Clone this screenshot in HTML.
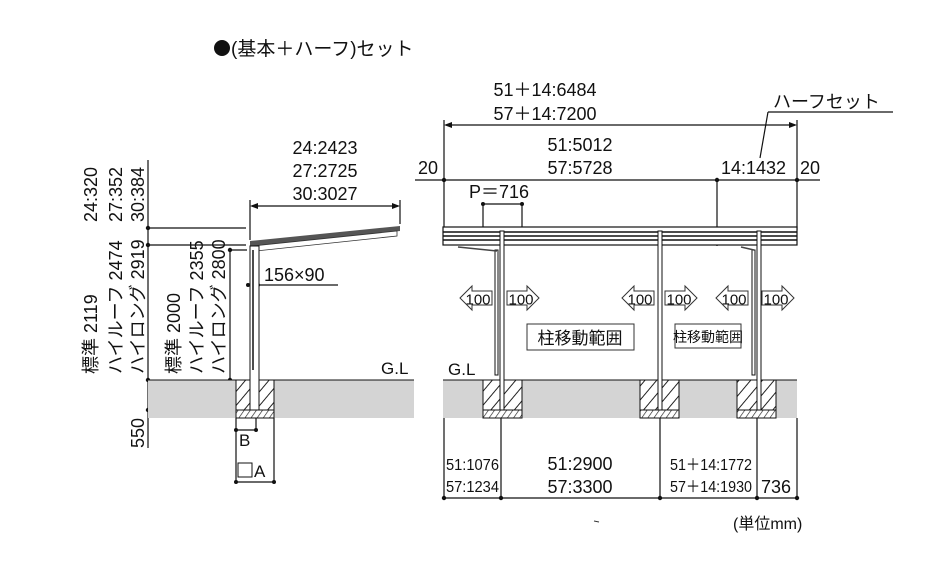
<!DOCTYPE html>
<html><head><meta charset="utf-8"><style>
html,body{margin:0;padding:0;background:#fff;}
svg{display:block;}
text{font-family:"Liberation Sans","Noto Sans CJK JP",sans-serif;fill:#111;}
</style></head><body>
<svg width="948" height="561" viewBox="0 0 948 561" xmlns="http://www.w3.org/2000/svg">
<defs>
<pattern id="h" width="9" height="9" patternUnits="userSpaceOnUse" patternTransform="rotate(40)">
<rect width="9" height="9" fill="#fff"/><line x1="0" y1="0" x2="0" y2="9" stroke="#222" stroke-width="2"/></pattern>
<pattern id="h2" width="5" height="5" patternUnits="userSpaceOnUse" patternTransform="rotate(35)">
<rect width="5" height="5" fill="#fff"/><line x1="0" y1="0" x2="0" y2="5" stroke="#222" stroke-width="1.3"/></pattern>
<g id="la"><polygon points="0,12 12,0 12,5 32,5 32,19 12,19 12,24" fill="#fff" stroke="#333" stroke-width="1"/><text x="18" y="18.5" font-size="15" text-anchor="middle">100</text></g>
<g id="ra"><polygon points="0,5 20,5 20,0 32,12 20,24 20,19 0,19" fill="#fff" stroke="#333" stroke-width="1"/><text x="14" y="18.5" font-size="15" text-anchor="middle">100</text></g>
</defs>
<circle cx="222" cy="48" r="8" fill="#111"/>
<text x="231" y="55" font-size="19">(基本＋ハーフ)セット</text>

<!-- LEFT DIAGRAM -->
<g stroke="#111" stroke-width="1.2" fill="none">
<line x1="148" y1="160" x2="148" y2="448"/>
<line x1="148" y1="228" x2="246" y2="228"/>
<line x1="148" y1="245" x2="246" y2="245"/>
<line x1="230" y1="250" x2="230" y2="380"/>
<line x1="230" y1="250" x2="247" y2="250"/>
<line x1="148" y1="410" x2="236" y2="410"/>
<line x1="250" y1="200" x2="250" y2="240"/>
<line x1="400" y1="200" x2="400" y2="224"/>
<line x1="252" y1="206" x2="398" y2="206"/>
<line x1="248" y1="285" x2="338" y2="285"/>
</g>
<polygon points="250,206 258,203 258,209" fill="#111"/>
<polygon points="400,206 392,203 392,209" fill="#111"/>
<g fill="#111"><circle cx="148" cy="228" r="2.2"/><circle cx="148" cy="245" r="2.2"/><circle cx="148" cy="380" r="2.2"/><circle cx="148" cy="410" r="2.2"/><circle cx="230" cy="250" r="2.2"/><circle cx="230" cy="380" r="2.2"/><circle cx="248" cy="285" r="2"/><circle cx="258" cy="285" r="2"/></g>
<text x="325" y="154" font-size="18" text-anchor="middle">24:2423</text>
<text x="325" y="177" font-size="18" text-anchor="middle">27:2725</text>
<text x="325" y="200" font-size="18" text-anchor="middle">30:3027</text>
<text x="264" y="281" font-size="18">156×90</text>
<g font-size="18">
<text transform="translate(97,222) rotate(-90)">24:320</text>
<text transform="translate(122,222) rotate(-90)">27:352</text>
<text transform="translate(144,222) rotate(-90)">30:384</text>
<text transform="translate(97,374) rotate(-90)">標準 2119</text>
<text transform="translate(122,374) rotate(-90)">ハイルーフ 2474</text>
<text transform="translate(144,374) rotate(-90)">ハイロング 2919</text>
<text transform="translate(180,374) rotate(-90)">標準 2000</text>
<text transform="translate(203,374) rotate(-90)">ハイルーフ 2355</text>
<text transform="translate(225,374) rotate(-90)">ハイロング 2800</text>
<text transform="translate(144,448) rotate(-90)">550</text>
</g>
<polygon points="250,241 400,226 400,231 250,246" fill="#555"/>
<polygon points="252,246 397,231 397,236 256,251" fill="#fff" stroke="#333" stroke-width="0.8"/>
<rect x="148" y="380" width="266" height="38" fill="#d4d4d4"/>
<line x1="148" y1="380" x2="414" y2="380" stroke="#111" stroke-width="1"/>
<text x="381" y="374" font-size="17">G.L</text>
<rect x="236" y="380" width="38" height="30" fill="url(#h)" stroke="#111" stroke-width="1"/>
<rect x="236" y="410" width="38" height="8" fill="url(#h2)" stroke="#111" stroke-width="1"/>
<rect x="250" y="246" width="9" height="164" fill="#fff" stroke="#111" stroke-width="1"/>
<line x1="253" y1="250" x2="253" y2="370" stroke="#111" stroke-width="1.5"/>
<g stroke="#111" stroke-width="1.2">
<line x1="236" y1="418" x2="236" y2="482"/><line x1="274" y1="418" x2="274" y2="482"/>
<line x1="256" y1="418" x2="256" y2="430"/>
<line x1="236" y1="430" x2="256" y2="430"/><line x1="236" y1="482" x2="274" y2="482"/>
</g>
<g fill="#111"><circle cx="236" cy="430" r="2"/><circle cx="256" cy="430" r="2"/><circle cx="236" cy="482" r="2"/><circle cx="274" cy="482" r="2"/></g>
<text x="239" y="446" font-size="17">B</text>
<rect x="238" y="463" width="14" height="14" fill="none" stroke="#111" stroke-width="1"/>
<text x="254" y="477" font-size="17">A</text>

<!-- RIGHT DIAGRAM -->
<text x="545" y="96" font-size="18" text-anchor="middle">51＋14:6484</text>
<text x="545" y="120" font-size="18" text-anchor="middle">57＋14:7200</text>
<text x="773" y="108" font-size="18">ハーフセット</text>
<g stroke="#111" stroke-width="1.2" fill="none">
<line x1="768" y1="112" x2="893" y2="112"/>
<polyline points="768,112 760,158"/>
<line x1="446" y1="125" x2="795" y2="125"/>
<line x1="444" y1="120" x2="444" y2="230"/>
<line x1="797" y1="120" x2="797" y2="230"/>
<line x1="415" y1="180" x2="820" y2="180"/>
<line x1="717" y1="180" x2="717" y2="246"/>
<line x1="483" y1="204" x2="522" y2="204"/>
<line x1="483" y1="204" x2="483" y2="227"/><line x1="522" y1="204" x2="522" y2="227"/>
</g>
<polygon points="444,125 452,122 452,128" fill="#111"/>
<polygon points="797,125 789,122 789,128" fill="#111"/>
<g fill="#111"><circle cx="444" cy="180" r="2.2"/><circle cx="717" cy="180" r="2.2"/><circle cx="797" cy="180" r="2.2"/><circle cx="483" cy="204" r="2"/><circle cx="522" cy="204" r="2"/></g>
<text x="418" y="174" font-size="18">20</text>
<text x="580" y="151" font-size="18" text-anchor="middle">51:5012</text>
<text x="580" y="174" font-size="18" text-anchor="middle">57:5728</text>
<text x="721" y="174" font-size="18">14:1432</text>
<text x="800" y="174" font-size="18">20</text>
<text x="469" y="198" font-size="18">P＝716</text>
<rect x="443" y="227" width="354" height="18" fill="#fff" stroke="#111" stroke-width="1.2"/>
<g stroke="#111" stroke-width="1.5">
<line x1="443" y1="232" x2="797" y2="232"/><line x1="443" y1="236" x2="797" y2="236"/><line x1="443" y1="240" x2="797" y2="240"/>
</g>
<rect x="443" y="380" width="354" height="38" fill="#d4d4d4"/>
<line x1="443" y1="380" x2="797" y2="380" stroke="#111" stroke-width="1"/>
<text x="448" y="375" font-size="17">G.L</text>
<g stroke="#111" stroke-width="1">
<rect x="483" y="380" width="39" height="30" fill="url(#h)"/><rect x="483" y="410" width="39" height="8" fill="url(#h2)"/>
<rect x="640" y="380" width="39" height="30" fill="url(#h)"/><rect x="640" y="410" width="39" height="8" fill="url(#h2)"/>
<rect x="737" y="380" width="39" height="30" fill="url(#h)"/><rect x="737" y="410" width="39" height="8" fill="url(#h2)"/>
</g>
<g fill="#fff" stroke="#111" stroke-width="1">
<rect x="500" y="231" width="4" height="179"/>
<rect x="658" y="231" width="4" height="179"/>
<rect x="757" y="231" width="4" height="179"/>
<rect x="495" y="250" width="3" height="125"/>
<rect x="752" y="250" width="3" height="125"/>
</g>
<g stroke="#444" stroke-width="1.5" fill="none">
<line x1="458" y1="247" x2="497" y2="251"/><line x1="741" y1="247" x2="754" y2="250"/>
</g>
<use href="#la" x="460" y="286"/><use href="#ra" x="507" y="286"/>
<use href="#la" x="622" y="286"/><use href="#ra" x="665" y="286"/>
<use href="#la" x="716" y="286"/><use href="#ra" x="762" y="286"/>
<rect x="527" y="324" width="107" height="26" fill="#fff" stroke="#333" stroke-width="1"/>
<text x="580" y="344" font-size="17" text-anchor="middle">柱移動範囲</text>
<rect x="675" y="324" width="66" height="24" fill="#fff" stroke="#333" stroke-width="1"/>
<text x="708" y="342" font-size="14" text-anchor="middle">柱移動範囲</text>
<g stroke="#111" stroke-width="1.2">
<line x1="444" y1="418" x2="444" y2="498"/><line x1="501" y1="418" x2="501" y2="498"/>
<line x1="660" y1="418" x2="660" y2="498"/><line x1="757" y1="418" x2="757" y2="498"/>
<line x1="797" y1="418" x2="797" y2="498"/><line x1="444" y1="498" x2="797" y2="498"/>
</g>
<g fill="#111"><circle cx="444" cy="498" r="2.2"/><circle cx="501" cy="498" r="2.2"/><circle cx="660" cy="498" r="2.2"/><circle cx="757" cy="498" r="2.2"/><circle cx="797" cy="498" r="2.2"/></g>
<text x="446" y="470" font-size="16" textLength="53" lengthAdjust="spacingAndGlyphs">51:1076</text>
<text x="446" y="492" font-size="16" textLength="53" lengthAdjust="spacingAndGlyphs">57:1234</text>
<text x="580" y="470" font-size="18" text-anchor="middle">51:2900</text>
<text x="580" y="493" font-size="18" text-anchor="middle">57:3300</text>
<text x="670" y="470" font-size="16" textLength="82" lengthAdjust="spacingAndGlyphs">51＋14:1772</text>
<text x="670" y="492" font-size="16" textLength="82" lengthAdjust="spacingAndGlyphs">57＋14:1930</text>
<text x="761" y="493" font-size="18">736</text>
<text x="733" y="529" font-size="16">(単位mm)</text>
<line x1="594" y1="521" x2="599" y2="522" stroke="#333" stroke-width="1"/>
</svg>
</body></html>
